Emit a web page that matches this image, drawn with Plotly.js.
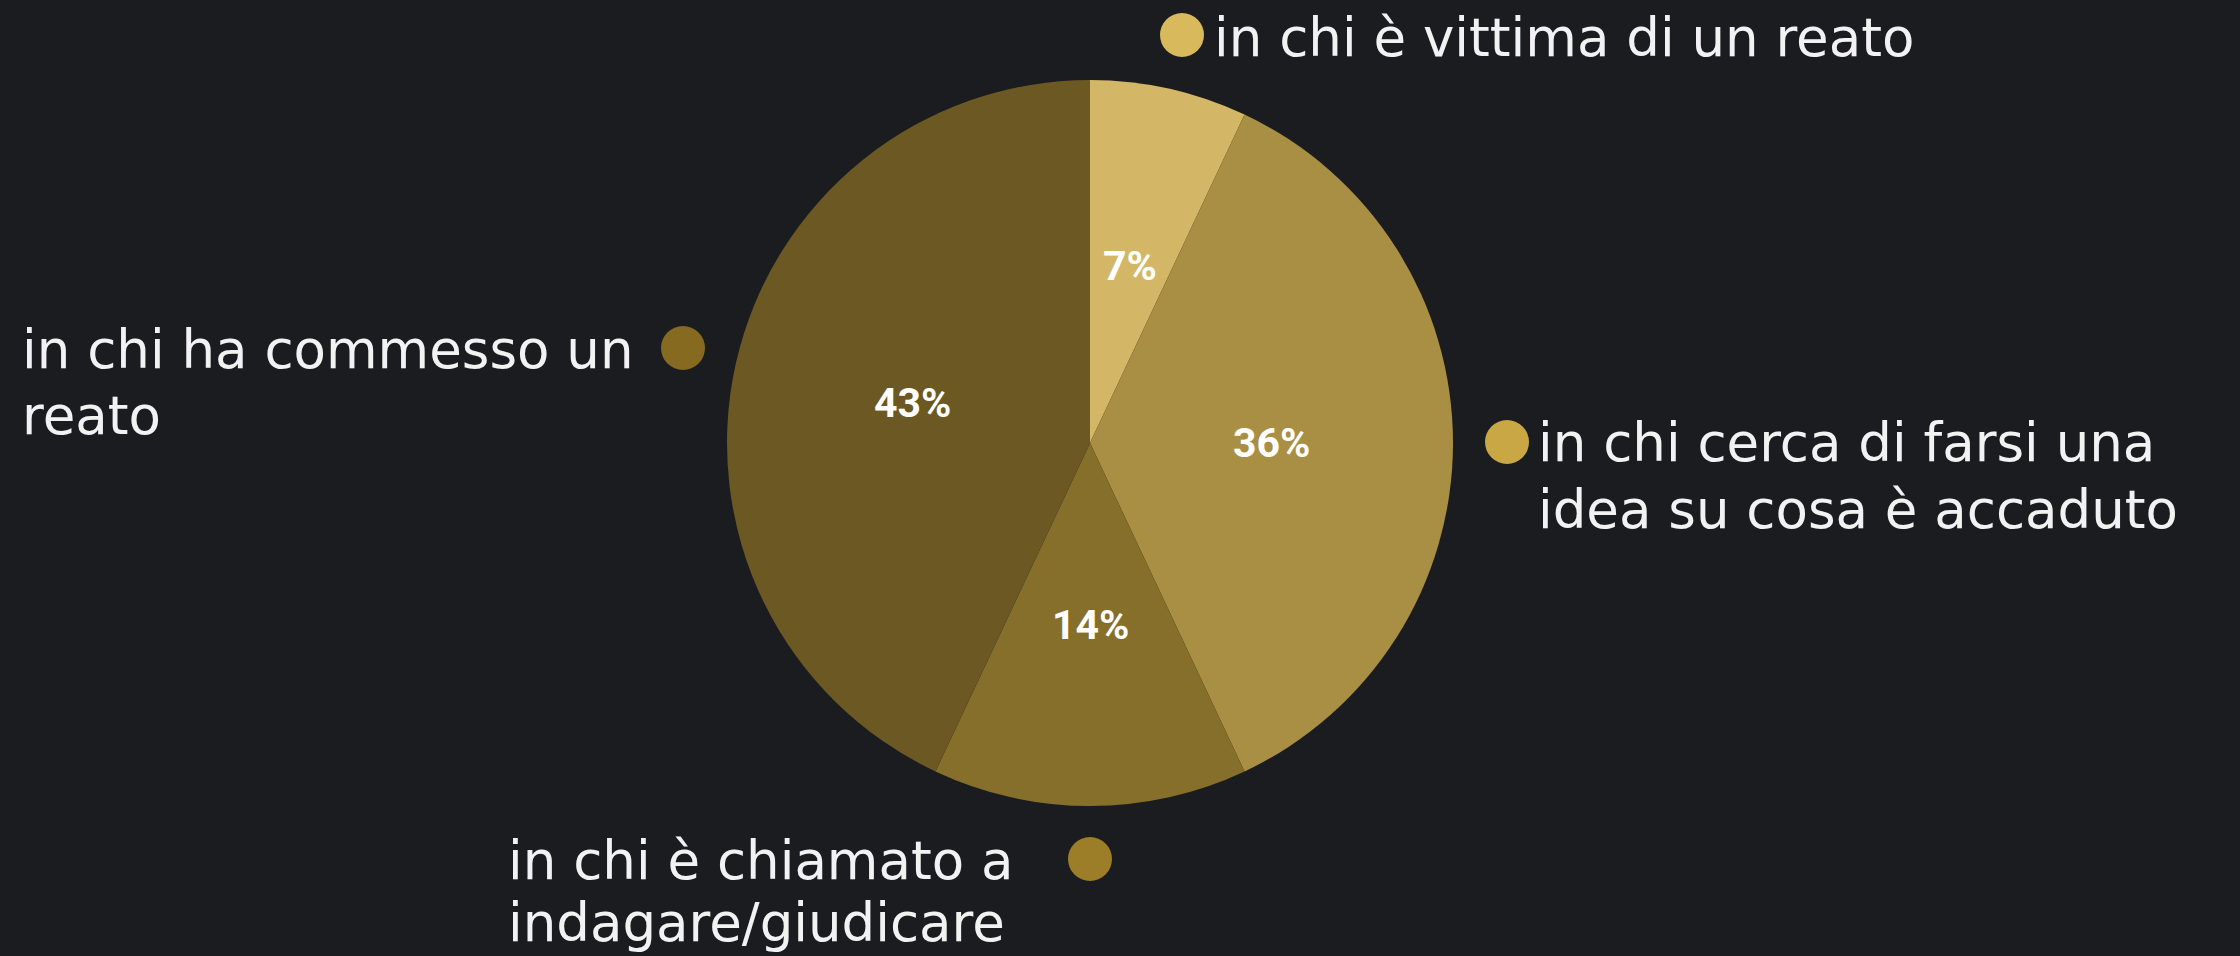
<!DOCTYPE html>
<html>
<head>
<meta charset="utf-8">
<script src="https://cdn.plot.ly/plotly-3.0.1.min.js"></script>
<style>
  html, body { margin: 0; padding: 0; background: #1b1c1f; }
  #chart { width: 2240px; height: 956px; }
</style>
</head>
<body>
<div id="chart"></div>
<script>
// ---- Data ----
const categories = [
  "in chi è vittima di un reato",
  "in chi cerca di farsi una\nidea su cosa è accaduto",
  "in chi è chiamato a\nindagare/giudicare",
  "in chi ha commesso un\nreato"
];
const values = [7, 36, 14, 43];
const colors = ["#d3b767", "#a98f43", "#866f2b", "#6c5822"];
const dotColors = ["#d8b95c", "#c9a745", "#9c7d28", "#866a20"];

// ---- Layout helpers (pixel -> paper) ----
const W = 2240, H = 956;
const px = x => x / W;
const py = y => 1 - y / H;

const pieCx = 1090, pieCy = 443, pieR = 363;

// label block placement: text left x, first line centre y, line gap, dot centre
const labelPos = [
  {tx: 1213, ty: 37,  gap: 66, dx: 1182, dy: 35},
  {tx: 1537, ty: 443, gap: 66, dx: 1507, dy: 442},
  {tx: 507,  ty: 860, gap: 62, dx: 1090, dy: 859},
  {tx: 21,   ty: 349, gap: 66, dx: 683,  dy: 348}
];
const dotD = 44;

const labelFont = {family: "DejaVu Sans, sans-serif", size: 53, color: "#f2f2f2"};
const pctFont = {family: "Roboto, sans-serif", size: 41, color: "#ffffff", weight: 700};

const annotations = [];
const shapes = [];

categories.forEach((c, i) => {
  const p = labelPos[i];
  c.split("\n").forEach((line, k) => {
    annotations.push({
      xref: "paper", yref: "paper",
      x: px(p.tx), y: py(p.ty + k * p.gap),
      xanchor: "left", yanchor: "middle",
      borderpad: 0,
      text: line, showarrow: false, font: labelFont
    });
  });
  shapes.push({
    type: "circle", xref: "paper", yref: "paper",
    x0: px(p.dx - dotD / 2), x1: px(p.dx + dotD / 2),
    y0: py(p.dy + dotD / 2), y1: py(p.dy - dotD / 2),
    fillcolor: dotColors[i], line: {width: 0}
  });
});

// percentage labels at half radius of each slice's mid-angle
const total = values.reduce((a, b) => a + b, 0);
let cum = 0;
values.forEach((v, i) => {
  const mid = (cum + v / 2) / total * 2 * Math.PI;
  cum += v;
  const r = pieR * 0.5;
  annotations.push({
    xref: "paper", yref: "paper",
    x: px(pieCx + r * Math.sin(mid)), y: py(pieCy - r * Math.cos(mid)),
    xanchor: "center", yanchor: "middle",
    text: Math.round(v / total * 100) + "%",
    showarrow: false, font: pctFont
  });
});

const trace = {
  type: "pie",
  values: values,
  labels: categories,
  sort: false,
  direction: "clockwise",
  rotation: 0,
  marker: {colors: colors, line: {width: 0}},
  textinfo: "none",
  hoverinfo: "skip",
  showlegend: false,
  domain: {
    x: [px(pieCx - pieR), px(pieCx + pieR)],
    y: [py(pieCy + pieR), py(pieCy - pieR)]
  }
};

const layout = {
  width: W,
  height: H,
  margin: {l: 0, r: 0, t: 0, b: 0},
  paper_bgcolor: "#1b1c1f",
  plot_bgcolor: "#1b1c1f",
  showlegend: false,
  annotations: annotations,
  shapes: shapes
};

Plotly.newPlot("chart", [trace], layout, {displayModeBar: false, staticPlot: true});
</script>
</body>
</html>
